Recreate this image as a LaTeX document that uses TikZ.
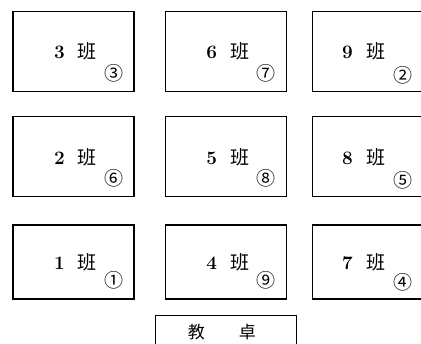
\documentclass[tikz,border=0pt]{standalone}
\usepackage{fontspec}
\newfontfamily\cjk{Noto Sans CJK SC}
\usetikzlibrary{positioning}
\tikzset{
  room/.style={draw, line width=1.3pt, minimum width=121pt, minimum height=80pt, inner sep=0pt},
  lbl/.style={font=\fontsize{19}{19}\selectfont\bfseries, inner sep=0pt},
  num/.style={font=\cjk\fontsize{19}{19}\selectfont, inner sep=0pt},
  desk/.style={draw, line width=1.3pt, minimum width=141pt, minimum height=50pt, inner sep=0pt},
}

\begin{document}
\begin{tikzpicture}[x=1pt, y=1pt, node distance=24pt and 30pt]
  \useasboundingbox (0,0) rectangle (421,-344);
  % first row
  \node[room] (c3) at (73.5,-51.5) {};
  \node[room, right=of c3] (c6) {};
  \node[room, right=25pt of c6, minimum width=110pt] (c9) {};
  % second row
  \node[room, below=of c3] (c2) {};
  \node[room, right=of c2] (c5) {};
  \node[room, right=25pt of c5, minimum width=110pt] (c8) {};
  % third row
  \node[room, below=27pt of c2, minimum height=74pt] (c1) {};
  \node[room, right=of c1, minimum height=74pt] (c4) {};
  \node[room, right=25pt of c4, minimum width=110pt, minimum height=74pt] (c7) {};
  % teacher's desk
  \node[desk, below=15pt of c4] (dk) {};

  \node[lbl] (t3) at ([xshift=2pt]c3.center) {3\hspace{0.7em}{\mdseries\cjk 班}};
  \node[lbl] (t6) at ([xshift=2pt]c6.center) {6\hspace{0.7em}{\mdseries\cjk 班}};
  \node[lbl] (t9) at ([xshift=-4pt]c9.center) {9\hspace{0.7em}{\mdseries\cjk 班}};
  \node[lbl] (t2) at ([xshift=2pt]c2.center) {2\hspace{0.7em}{\mdseries\cjk 班}};
  \node[lbl] (t5) at ([xshift=2pt]c5.center) {5\hspace{0.7em}{\mdseries\cjk 班}};
  \node[lbl] (t8) at ([xshift=-4pt]c8.center) {8\hspace{0.7em}{\mdseries\cjk 班}};
  \node[lbl] (t1) at ([xshift=2pt]c1.center) {1\hspace{0.7em}{\mdseries\cjk 班}};
  \node[lbl] (t4) at ([xshift=2pt]c4.center) {4\hspace{0.7em}{\mdseries\cjk 班}};
  \node[lbl] (t7) at ([xshift=-4pt]c7.center) {7\hspace{0.7em}{\mdseries\cjk 班}};

  \node[num] (n3) at ([shift={(-21pt,19pt)}]c3.south east) {③};
  \node[num] (n7) at ([shift={(-21pt,19pt)}]c6.south east) {⑦};
  \node[num] (n2) at ([shift={(-20pt,17pt)}]c9.south east) {②};
  \node[num] (n6) at ([shift={(-21pt,19pt)}]c2.south east) {⑥};
  \node[num] (n8) at ([shift={(-21pt,19pt)}]c5.south east) {⑧};
  \node[num] (n5) at ([shift={(-20pt,17pt)}]c8.south east) {⑤};
  \node[num] (n1) at ([shift={(-21pt,19pt)}]c1.south east) {①};
  \node[num] (n9) at ([shift={(-21pt,19pt)}]c4.south east) {⑨};
  \node[num] (n4) at ([shift={(-20pt,17pt)}]c7.south east) {④};

  \node[lbl, font=\cjk\fontsize{17}{17}\selectfont] (tk) at ([shift={(-4pt,-17pt)}]dk.north) {教\hspace{2em}卓};
\end{tikzpicture}
\end{document}
